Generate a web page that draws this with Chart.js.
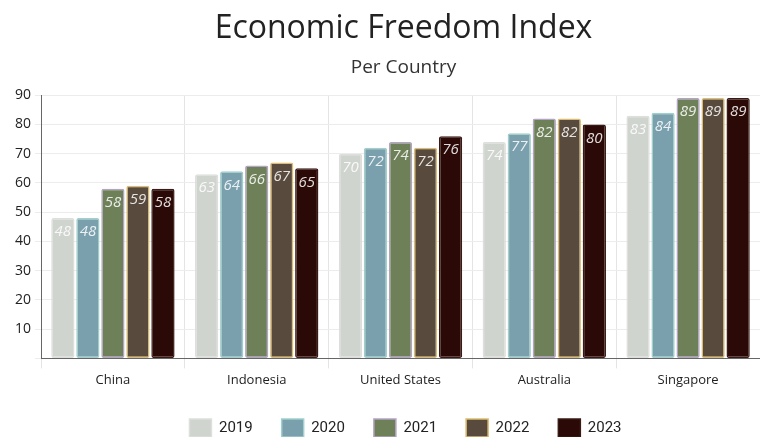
<!DOCTYPE html>
<html><head><meta charset="utf-8">
<script src="https://cdn.jsdelivr.net/npm/chart.js@4"></script>
<style>html,body{margin:0;padding:0;background:#fff}</style>
</head><body><canvas id="c" width="760" height="437"></canvas>
<script>
const categories = ["China","Indonesia","United States","Australia","Singapore"];
const years = ["2019","2020","2021","2022","2023"];
const v2019 = [48,63,70,74,83];
const v2020 = [48,64,72,77,84];
const v2021 = [58,66,74,82,89];
const v2022 = [59,67,72,82,89];
const v2023 = [58,65,76,80,89];
const yTicks = [10,20,30,40,50,60,70,80,90];

const fills = ["#d0d4cf","#7a9fad","#6e8058","#584a3c","#2a0906"];
const borders = ["#dcdfdb","#9fd0cc","#b4a3c4","#dcbc70","#3a1a14"];
const series = [v2019,v2020,v2021,v2022,v2023];

const labelPlugin = {
  id:'barLabels',
  beforeLayout(chart){
    const lg = chart.legend;
    if(lg && !lg._patched){
      const f = lg.fit.bind(lg);
      lg.fit = function(){ f(); this.height -= 16; };
      lg._patched = true;
    }
  },
  afterLayout(chart){
    const lg = chart.legend;
    if(lg){ lg.left += 20; lg.right += 20; lg.top -= 2; lg.bottom = chart.height; }
    chart.boxes.forEach(b=>{
      if(b.options && b.options.position==='top' && typeof b.options.text==='string'){
        b.left += 18; b.right += 18;
      }
    });
  },
  afterDatasetsDraw(chart){
    const ctx = chart.ctx;
    ctx.save();
    ctx.font = 'italic 15px "Open Sans"';
    ctx.textAlign='center';
    ctx.textBaseline='middle';
    ctx.fillStyle='rgba(255,255,255,0.85)';
    chart.data.datasets.forEach((ds,i)=>{
      const meta = chart.getDatasetMeta(i);
      meta.data.forEach((bar,j)=>{
        ctx.fillText(String(ds.data[j]), bar.x, bar.y+14);
      });
    });
    ctx.restore();
  }
};

new Chart(document.getElementById('c'),{
  type:'bar',
  data:{
    labels:categories,
    datasets: years.map((y,i)=>({
      label:y, data:series[i], backgroundColor:fills[i], borderColor:borders[i],
      borderWidth:1.5, borderRadius:2, borderSkipped:false,
      categoryPercentage:0.87, barPercentage:0.93
    }))
  },
  options:{
    responsive:false, animation:false, maintainAspectRatio:false,
    layout:{padding:{left:11,right:0,top:0,bottom:4}},
    plugins:{
      title:{display:true,text:'Economic Freedom Index',color:'#222',font:{family:'"Open Sans"',size:32,weight:'normal'},padding:{top:10,bottom:4}},
      subtitle:{display:true,text:'Per Country',color:'#333',font:{family:'"Open Sans"',size:19,weight:'normal'},padding:{top:4,bottom:16}},
      legend:{position:'bottom',labels:{boxWidth:22,boxHeight:18,padding:29,color:'#222',font:{family:'Roboto',size:15}}},
      tooltip:{enabled:false}
    },
    scales:{
      x:{
        grid:{offset:true,color:'#e4e4e8',tickLength:10,drawTicks:true},
        border:{color:'#666'},
        ticks:{color:'#222',font:{family:'"Open Sans"',size:13},padding:4,maxRotation:0}
      },
      y:{
        min:0,max:90,
        afterBuildTicks(ax){ax.ticks=[0].concat(yTicks).map(v=>({value:v}));},
        grid:{color:'#ececec',tickLength:6},
        border:{color:'#666'},
        ticks:{color:'#222',font:{family:'"Open Sans"',size:14},padding:4,callback:v=>v===0?'':v}
      }
    }
  },
  plugins:[labelPlugin]
});
</script></body></html>
